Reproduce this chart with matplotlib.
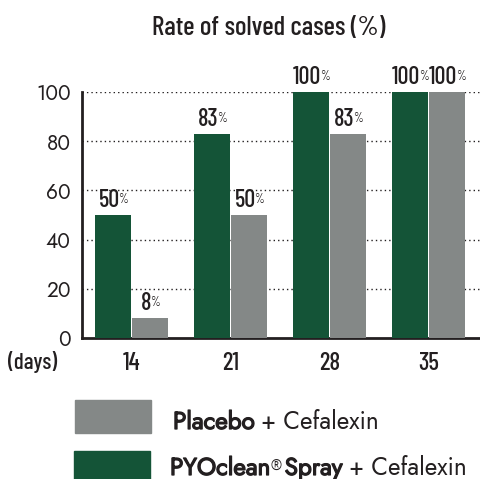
import matplotlib
matplotlib.use('Agg')
import matplotlib.pyplot as plt
from matplotlib.patches import Rectangle
import matplotlib.patheffects as pe
import numpy as np

# ---- data ----
days = ["14", "21", "28", "35"]
pyoclean = [50, 83, 100, 100]
placebo = [8, 50, 83, 100]
yticks = [0, 20, 40, 60, 80, 100]
title = "Rate of solved cases (%)"
legend_placebo = ("Placebo", "+ Cefalexin")
legend_pyo = ("PYOclean", "®", "Spray", "+ Cefalexin")

GREEN = "#145437"
GRAY = "#848887"
INK = "#231f20"
COND = ["Barlow Condensed", "DejaVu Sans"]
GEO = ["Jost", "DejaVu Sans"]
BOLD_FX = [pe.withStroke(linewidth=0.9, foreground=INK)]

W, H = 480, 479
fig = plt.figure(figsize=(W / 100, H / 100), dpi=100)

def fx(px):
    return px / W

def fy(py):
    return 1 - py / H

ax = fig.add_axes([fx(82), fy(338), 1 - fx(82), fy(92) - fy(338)])
x = np.arange(len(days))
bw = 0.364
gap = 0.005
b1 = ax.bar(x - bw / 2 - gap, pyoclean, bw, color=GREEN, zorder=3)
b2 = ax.bar(x + bw / 2 + gap, placebo, bw, color=GRAY, zorder=3)

ax.set_xlim(-0.5, 3.52)
ax.set_ylim(0, 100)
ax.set_yticks(yticks)
ax.set_yticklabels([str(v) for v in yticks], family=GEO, fontsize=15, color=INK)
ax.set_xticks(x)
ax.set_xticklabels(days, family=COND, fontsize=18, fontweight=500, color=INK)
ax.tick_params(axis='both', length=0)
ax.tick_params(axis='y', pad=8)
ax.tick_params(axis='x', pad=10)
for s in ['top', 'right']:
    ax.spines[s].set_visible(False)
for s in ['left', 'bottom']:
    ax.spines[s].set_linewidth(2)
    ax.spines[s].set_color(INK)
for v in yticks[1:]:
    ax.axhline(v, color=INK, lw=1, ls=(0, (1, 2.2)), zorder=1)

fig.text(fx(33), fy(362), "(days)", family=COND, fontsize=16.5, fontweight=500,
         color=INK, ha='center', va='center')

def label(bar, val):
    cx = bar.get_x() + bar.get_width() / 2
    t = ax.annotate(str(val), xy=(cx, val), xytext=(-4, 3), textcoords='offset pixels',
                    ha='center', va='bottom', family=COND, fontsize=17.5, fontweight=500,
                    color=INK, zorder=5)
    ax.annotate('%', xy=(1, 1), xycoords=t, xytext=(-1, -4), textcoords='offset pixels',
                ha='left', va='top', family=COND, fontsize=9, color=INK)

for bar, v in zip(b1, pyoclean):
    label(bar, v)
for bar, v in zip(b2, placebo):
    label(bar, v)

fig.text(fx(269), fy(28), title, family=COND, fontsize=19.5, fontweight=500, color=INK,
         ha='center', va='center')

# legend
fig.patches.append(Rectangle((fx(75), fy(433)), fx(151) - fx(75), fy(400) - fy(433),
                             transform=fig.transFigure, color=GRAY))
fig.patches.append(Rectangle((fx(74), fy(480)), fx(150) - fx(74), fy(451) - fy(480),
                             transform=fig.transFigure, color=GREEN))

LF = 17.5
t1 = fig.text(fx(173), fy(419), legend_placebo[0], family=GEO, fontsize=LF,
              color=INK, ha='left', va='center_baseline', path_effects=BOLD_FX)
ax.annotate(legend_placebo[1], xy=(1, 0), xycoords=t1, xytext=(6, 0), textcoords='offset pixels',
            ha='left', va='bottom', family=GEO, fontsize=LF, color=INK, annotation_clip=False)

p1 = fig.text(fx(170), fy(465), legend_pyo[0], family=GEO, fontsize=LF,
              color=INK, ha='left', va='center_baseline', path_effects=BOLD_FX)
p2 = ax.annotate(legend_pyo[1], xy=(1, 1), xycoords=p1, xytext=(0, -4), textcoords='offset pixels',
                 ha='left', va='top', family=GEO, fontsize=10, color=INK, annotation_clip=False)
p3 = ax.annotate(legend_pyo[2], xy=(1, 0), xycoords=(p2, p1), xytext=(3, 0), textcoords='offset pixels',
                 ha='left', va='bottom', family=GEO, fontsize=LF, color=INK,
                 annotation_clip=False, path_effects=BOLD_FX)
ax.annotate(legend_pyo[3], xy=(1, 0), xycoords=p3, xytext=(6, 0), textcoords='offset pixels',
            ha='left', va='bottom', family=GEO, fontsize=LF, color=INK, annotation_clip=False)

fig.savefig('out.png', dpi=100)
